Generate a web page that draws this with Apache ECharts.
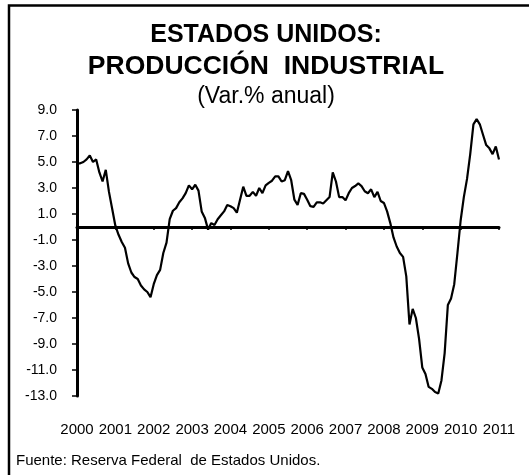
<!DOCTYPE html>
<html>
<head>
<meta charset="utf-8">
<script src="https://cdn.jsdelivr.net/npm/echarts@6/dist/echarts.min.js"></script>
<style>
  html, body { margin: 0; padding: 0; background: #fff; }
  #chart { width: 529px; height: 475px; }
</style>
</head>
<body>
<div id="chart"></div>
<script>
// monthly, Jan 2000 .. Jan 2011
var years = ["2000", "2001", "2002", "2003", "2004", "2005", "2006", "2007", "2008", "2009", "2010", "2011"];

var months = [];
years.forEach(function (y) {
  for (var m = 1; m <= 12; m++) {
    if (y === "2011" && m > 1) break;
    months.push(y + "-" + (m < 10 ? "0" + m : m));
  }
});

// Var. % anual
var produccion = [
  4.9, 4.9, 5.0, 5.2, 5.5, 5.0, 5.2, 4.2, 3.5, 4.4, 2.7, 1.4,        // 2000
  0.1, -0.6, -1.15, -1.6, -2.8, -3.5, -3.85, -4.0, -4.5, -4.8, -5.0, -5.4, // 2001
  -4.4, -3.7, -3.3, -2.0, -1.2, 0.6, 1.25, 1.45, 1.9, 2.2, 2.6, 3.2,  // 2002
  2.9, 3.25, 2.8, 1.2, 0.7, -0.2, 0.3, 0.15, 0.6, 0.9, 1.2, 1.7,      // 2003
  1.6, 1.45, 1.1, 2.1, 3.1, 2.4, 2.4, 2.7, 2.4, 3.0, 2.6, 3.2,        // 2004
  3.4, 3.56, 3.9, 3.9, 3.5, 3.6, 4.3, 3.6, 2.1, 1.7, 2.6, 2.55,       // 2005
  2.1, 1.6, 1.55, 1.9, 1.9, 1.8, 2.05, 2.3, 4.2, 3.5, 2.3, 2.3,       // 2006
  2.05, 2.6, 3.0, 3.15, 3.35, 3.15, 2.75, 2.6, 2.9, 2.3, 2.7, 2.0,    // 2007
  1.85, 1.2, 0.3, -0.8, -1.5, -2.0, -2.3, -3.8, -7.5, -6.3, -7.0, -8.6, // 2008
  -10.8, -11.3, -12.3, -12.45, -12.7, -12.8, -11.8, -9.7, -6.0, -5.5, -4.4, -2.0, // 2009
  0.5, 2.3, 3.7, 5.6, 7.9, 8.3, 7.9, 7.1, 6.3, 6.05, 5.6, 6.2,        // 2010
  5.2                                                                  // 2011
];

var font = "'Liberation Sans', Arial, sans-serif";

var chart = echarts.init(document.getElementById("chart"));

chart.setOption({
  animation: false,
  backgroundColor: "#fff",
  graphic: [{
    type: "rect",
    shape: { x: 9, y: 5.5, width: 1000, height: 1000 },
    style: { fill: "none", stroke: "#000", lineWidth: 2.5 },
    silent: true
  }],
  title: [{
    text: "{a|ESTADOS UNIDOS:}\n{b|PRODUCCIÓN  INDUSTRIAL}",
    subtext: "(Var.% anual)",
    left: 266,
    textAlign: "center",
    top: 19,
    padding: 0,
    itemGap: 7,
    textStyle: {
      fontFamily: font,
      fontWeight: "bold",
      color: "#000",
      rich: {
        a: { fontFamily: font, fontSize: 25, fontWeight: "bold", color: "#000", lineHeight: 32 },
        b: { fontFamily: font, fontSize: 26.5, fontWeight: "bold", color: "#000", lineHeight: 32 }
      }
    },
    subtextStyle: {
      fontFamily: font,
      fontSize: 23,
      color: "#000",
      lineHeight: 25
    }
  }, {
    text: "Fuente: Reserva Federal  de Estados Unidos.",
    left: 16,
    top: 453,
    padding: 0,
    textStyle: {
      fontFamily: font,
      fontSize: 15,
      fontWeight: "normal",
      color: "#000"
    }
  }],
  grid: {
    left: 77,
    right: 30,
    top: 110,
    bottom: 79,
    containLabel: false
  },
  xAxis: [{
    type: "category",
    data: months,
    boundaryGap: false,
    axisLine: { onZero: true, lineStyle: { color: "#000", width: 3 } },
    axisTick: { show: true, interval: 11, length: 3, lineStyle: { color: "#000", width: 1.5 } },
    axisLabel: { show: false },
    splitLine: { show: false }
  }, {
    type: "category",
    data: months,
    boundaryGap: false,
    position: "bottom",
    axisLine: { show: false, onZero: false },
    axisTick: { show: false },
    axisLabel: {
      interval: 11,
      margin: 26,
      fontFamily: font,
      fontSize: 15,
      color: "#000",
      formatter: function (v) { return v.slice(0, 4); }
    },
    splitLine: { show: false }
  }],
  yAxis: {
    type: "value",
    min: -13,
    max: 9,
    interval: 2,
    axisLine: { show: true, lineStyle: { color: "#000", width: 3 } },
    axisTick: { show: true, length: 5, lineStyle: { color: "#000", width: 1.5 } },
    axisLabel: {
      margin: 20,
      fontFamily: font,
      fontSize: 14,
      color: "#000",
      formatter: function (v) { return v.toFixed(1); }
    },
    splitLine: { show: false }
  },
  series: [{
    type: "line",
    data: produccion,
    xAxisIndex: 0,
    showSymbol: false,
    lineStyle: { color: "#000", width: 2.2 },
    z: 3
  }]
});
</script>
</body>
</html>
